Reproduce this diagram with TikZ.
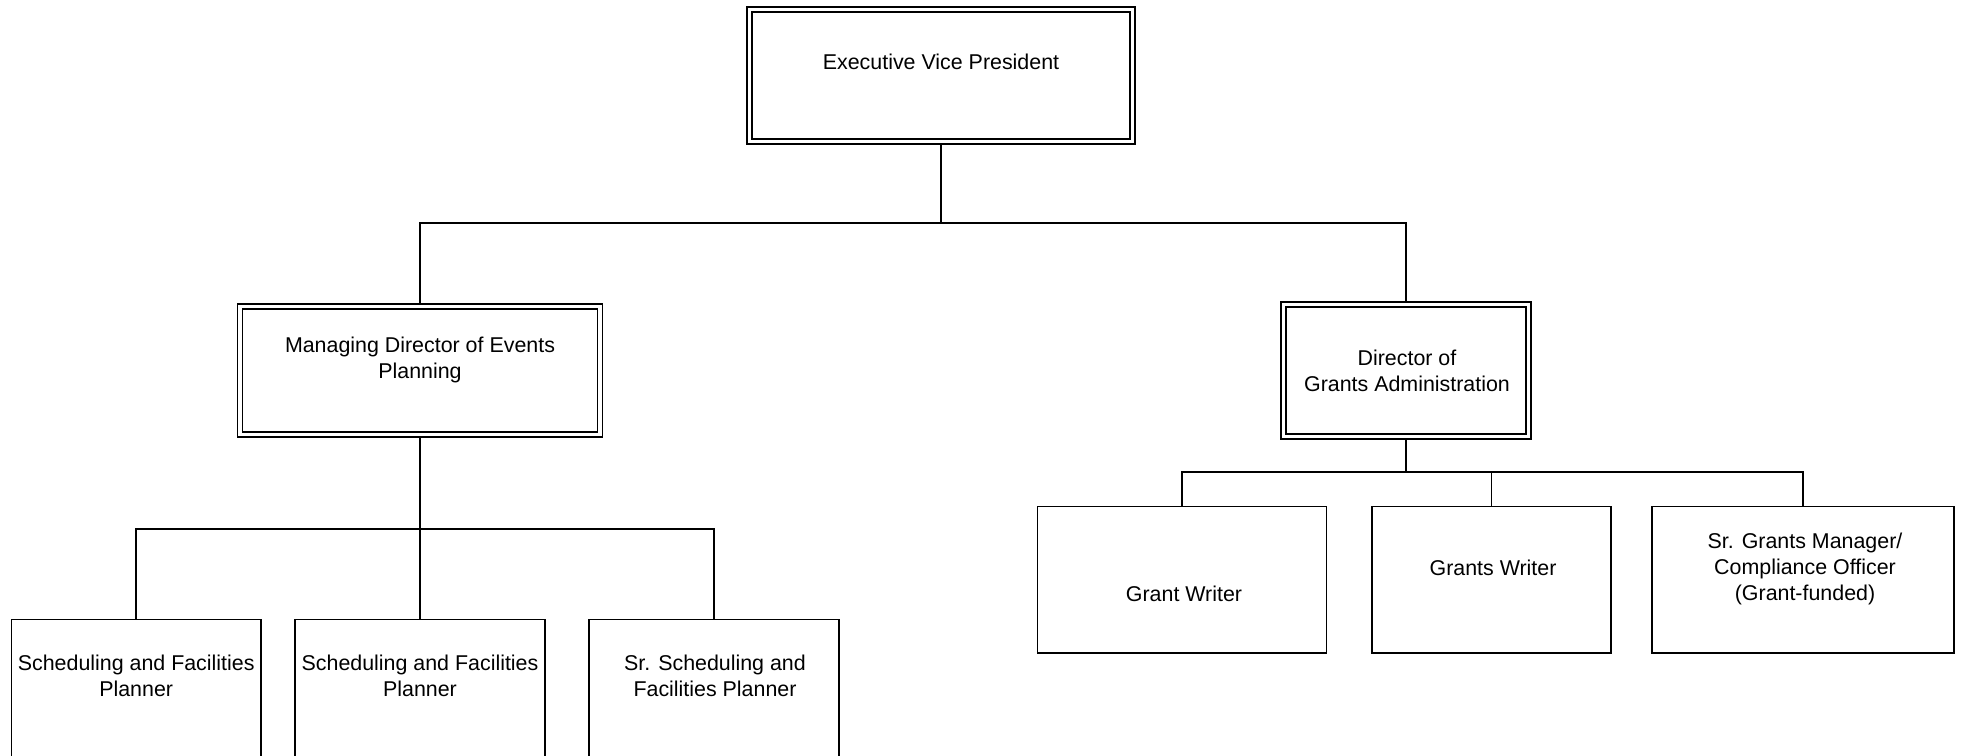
\documentclass[tikz,border=0pt]{standalone}
\usepackage{fontspec}
\setmainfont{Liberation Sans}
\begin{document}
\begin{tikzpicture}[x=0.5pt,y=-0.5pt,
  box/.style={draw=black,line width=0.9pt,fill=white,inner sep=0pt,rectangle},
  dbox/.style={draw=black,line width=0.8pt,double=white,double distance=1.7pt,inner sep=0pt,outer sep=1.65pt,rectangle},
  txt/.style={inner sep=0pt,align=center,text=black,font=\fontsize{10.7}{13}\selectfont},
  conn/.style={draw=black,line width=0.9pt}]
\clip (0,0) rectangle (1963,755);
\fill[white] (0,0) rectangle (1963,755);
% top
\node[dbox,minimum width=191.5pt,minimum height=66pt] (evp) at (941,75.5) {};
\node[txt] (evpT) at (941,64.4) {\strut Executive Vice President};
% second level
\node[dbox,minimum width=180pt,minimum height=64pt] (md) at (420,370.5) {};
\node[txt] (mdT) at (420,360.4) {\strut Managing Director of Events\\\strut Planning};
\node[dbox,minimum width=122.5pt,minimum height=66pt] (dga) at (1406,370.5) {};
\node[txt] (dgaT) at (1407,372.9) {\strut Director of\\\strut Grants Administration};
% third level left
\node[box,minimum width=124.8pt,minimum height=90pt] (p1) at (136.2,709.5) {};
\node[txt] (p1T) at (136.2,678.2) {\strut Scheduling and Facilities\\\strut Planner};
\node[box,minimum width=124.8pt,minimum height=90pt] (p2) at (420,709.5) {};
\node[txt] (p2T) at (420,678.2) {\strut Scheduling and Facilities\\\strut Planner};
\node[box,minimum width=125pt,minimum height=90pt] (p3) at (714.3,709.5) {};
\node[txt] (p3T) at (715,678.2) {\strut Sr. Scheduling and\\\strut Facilities Planner};
% third level right
\node[box,minimum width=144.5pt,minimum height=73.25pt] (gw) at (1182,579.75) {};
\node[txt] (gwT) at (1184,596.7) {\strut Grant Writer};
\node[box,minimum width=119.5pt,minimum height=73.25pt] (gsw) at (1491.5,579.75) {};
\node[txt] (gswT) at (1493,570) {\strut Grants Writer};
\node[box,minimum width=151pt,minimum height=73.25pt] (sgm) at (1803,579.75) {};
\node[txt] (sgmT) at (1805,569.2) {\strut Sr. Grants Manager/\\\strut Compliance Officer\\\strut (Grant-funded)};
% connectors
\coordinate (bA) at (941,223);
\coordinate (bB) at (420,529);
\coordinate (bC) at (1406,472);
\draw[conn] (evp.south) -- (bA);
\draw[conn] (md.north) |- (bA);
\draw[conn] (dga.north) |- (bA);
\draw[conn] (md.south) -- (p2.north);
\draw[conn] (p1.north) |- (bB);
\draw[conn] (p3.north) |- (bB);
\draw[conn] (dga.south) -- (bC);
\draw[conn] (gw.north) |- (bC);
\draw[conn] (sgm.north) |- (bC);
\draw[conn] (gsw.north) -- (gsw.north |- bC);
\end{tikzpicture}
\end{document}
